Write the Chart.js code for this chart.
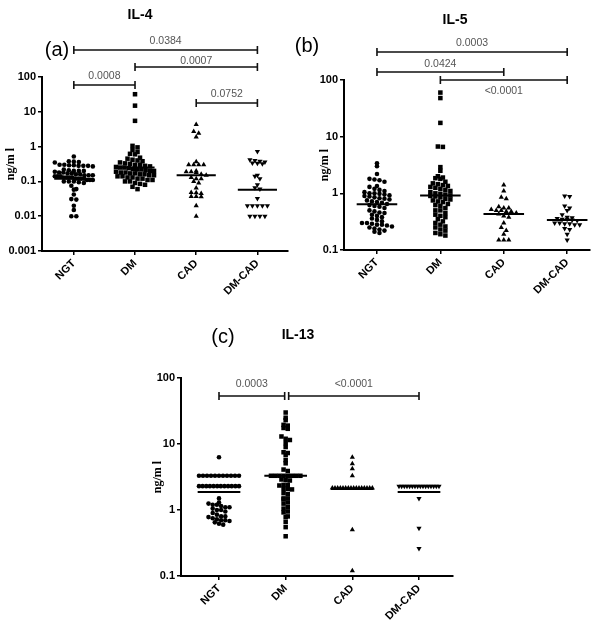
<!DOCTYPE html>
<html>
<head>
<meta charset="utf-8">
<script src="https://cdn.jsdelivr.net/npm/chart.js@4.4.0/dist/chart.umd.min.js"></script>
<style>
  body { margin: 0; background: #fff; }
  #wrap { position: relative; width: 600px; height: 637px; overflow: hidden; }
  canvas { position: absolute; }
</style>
</head>
<body>
<div id="wrap">
  <canvas id="il4" width="300" height="320" style="left:0;top:0"></canvas>
  <canvas id="il5" width="310" height="320" style="left:290px;top:0"></canvas>
  <canvas id="il13" width="330" height="317" style="left:140px;top:320px"></canvas>
</div>
<script>
const groups = ['NGT', 'DM', 'CAD', 'DM-CAD'];

// IL-4 (ng/ml)
const il4NGT = [0.52, 0.38, 0.37, 0.36, 0.35, 0.3, 0.3, 0.29, 0.29, 0.28, 0.28, 0.28, 0.27, 0.22, 0.21, 0.2, 0.2, 0.2, 0.19, 0.18, 0.18, 0.17, 0.17, 0.16, 0.16, 0.15, 0.15, 0.15, 0.14, 0.14, 0.14, 0.13, 0.13, 0.13, 0.13, 0.12, 0.12, 0.12, 0.12, 0.11, 0.11, 0.11, 0.1, 0.1, 0.1, 0.095, 0.09, 0.075, 0.06, 0.058, 0.042, 0.031, 0.03, 0.02, 0.015, 0.01, 0.01];
const il4DM = [32, 15, 5.5, 1.05, 0.95, 0.8, 0.7, 0.62, 0.6, 0.48, 0.45, 0.42, 0.4, 0.38, 0.35, 0.33, 0.32, 0.3, 0.3, 0.28, 0.27, 0.26, 0.25, 0.25, 0.24, 0.23, 0.22, 0.22, 0.21, 0.2, 0.2, 0.19, 0.18, 0.18, 0.17, 0.17, 0.16, 0.16, 0.15, 0.15, 0.14, 0.14, 0.13, 0.13, 0.12, 0.12, 0.11, 0.11, 0.1, 0.1, 0.09, 0.085, 0.08, 0.07, 0.06];
const il4CAD = [4.3, 2.7, 2.4, 1.9, 0.37, 0.3, 0.3, 0.3, 0.3, 0.2, 0.19, 0.19, 0.18, 0.16, 0.15, 0.13, 0.12, 0.12, 0.1, 0.09, 0.065, 0.048, 0.047, 0.045, 0.037, 0.037, 0.036, 0.02, 0.01];
const il4DMCAD = [0.72, 0.42, 0.4, 0.38, 0.36, 0.34, 0.33, 0.32, 0.15, 0.14, 0.12, 0.08, 0.066, 0.06, 0.032, 0.02, 0.02, 0.02, 0.02, 0.02, 0.01, 0.01, 0.01, 0.01];
const il4Medians = [0.12, 0.25, 0.15, 0.058];
const il4Ticks = [0.001, 0.01, 0.1, 1, 10, 100];
const il4TickLabels = ['0.001', '0.01', '0.1', '1', '10', '100'];
const il4Pvalues = [['NGT', 'DM-CAD', '0.0384'], ['DM', 'DM-CAD', '0.0007'], ['NGT', 'DM', '0.0008'], ['CAD', 'DM-CAD', '0.0752']];

// IL-5 (ng/ml)
const il5NGT = [3.4, 3.0, 2.2, 1.8, 1.75, 1.7, 1.6, 1.35, 1.3, 1.2, 1.15, 1.1, 1.05, 1.0, 1.0, 0.98, 0.95, 0.92, 0.9, 0.88, 0.85, 0.82, 0.8, 0.78, 0.75, 0.72, 0.7, 0.68, 0.65, 0.62, 0.6, 0.58, 0.55, 0.5, 0.48, 0.46, 0.45, 0.42, 0.4, 0.38, 0.36, 0.34, 0.32, 0.3, 0.3, 0.29, 0.28, 0.28, 0.27, 0.26, 0.25, 0.24, 0.23, 0.22, 0.21, 0.2];
const il5DM = [60, 48, 17.5, 6.7, 6.6, 2.9, 2.5, 2.0, 1.9, 1.85, 1.8, 1.6, 1.5, 1.45, 1.4, 1.35, 1.3, 1.25, 1.2, 1.15, 1.1, 1.05, 1.0, 0.98, 0.95, 0.92, 0.9, 0.88, 0.85, 0.8, 0.78, 0.75, 0.72, 0.7, 0.65, 0.62, 0.6, 0.55, 0.5, 0.5, 0.45, 0.42, 0.4, 0.38, 0.35, 0.32, 0.3, 0.28, 0.26, 0.25, 0.23, 0.22, 0.2, 0.19, 0.18];
const il5CAD = [1.4, 1.1, 0.85, 0.8, 0.58, 0.55, 0.55, 0.52, 0.5, 0.5, 0.48, 0.48, 0.45, 0.43, 0.4, 0.38, 0.3, 0.25, 0.22, 0.19, 0.15, 0.15, 0.15];
const il5DMCAD = [0.9, 0.88, 0.6, 0.55, 0.5, 0.42, 0.38, 0.37, 0.36, 0.35, 0.35, 0.34, 0.33, 0.3, 0.3, 0.29, 0.29, 0.28, 0.28, 0.24, 0.23, 0.19, 0.15];
const il5Medians = [0.64, 0.92, 0.43, 0.34];
const il5Ticks = [0.1, 1, 10, 100];
const il5TickLabels = ['0.1', '1', '10', '100'];
const il5Pvalues = [['NGT', 'DM-CAD', '0.0003'], ['NGT', 'CAD', '0.0424'], ['DM', 'DM-CAD', '<0.0001']];

// IL-13 (ng/ml)
const il13NGT = [6.3, 3.3, 3.3, 3.3, 3.3, 3.3, 3.3, 3.3, 3.3, 3.3, 3.3, 3.3, 2.3, 2.3, 2.3, 2.3, 2.3, 2.3, 2.3, 2.3, 2.3, 2.3, 2.3, 2.3, 1.5, 1.3, 1.25, 1.2, 1.2, 1.15, 1.1, 1.1, 1.05, 1.0, 1.0, 0.95, 0.9, 0.85, 0.8, 0.8, 0.78, 0.75, 0.72, 0.7, 0.7, 0.68, 0.65, 0.62, 0.6];
const il13DM = [30, 25, 23, 19.5, 19, 17.5, 17, 13, 12, 11.5, 10.3, 9, 7.5, 7.3, 6.8, 5.7, 5.1, 4.1, 3.9, 3.3, 3.3, 3.3, 3.3, 3.3, 3.3, 3.3, 3.3, 2.9, 2.85, 2.8, 2.4, 2.4, 2.35, 2.1, 2.1, 2.05, 1.8, 1.75, 1.5, 1.5, 1.45, 1.3, 1.25, 1.1, 1.05, 0.95, 0.92, 0.8, 0.78, 0.66, 0.55, 0.4];
const il13CAD = [6.3, 5.0, 4.2, 3.3, 2.15, 2.15, 2.15, 2.15, 2.15, 2.15, 2.15, 2.15, 2.15, 2.15, 2.15, 2.15, 2.15, 2.15, 2.15, 2.15, 0.5, 0.12];
const il13DMCAD = [2.3, 2.3, 2.3, 2.3, 2.3, 2.3, 2.3, 2.3, 2.3, 2.3, 2.3, 2.3, 2.3, 2.3, 2.3, 2.3, 1.5, 0.53, 0.26];
const il13Medians = [1.87, 3.3, 2.08, 1.87];
const il13Ticks = [0.1, 1, 10, 100];
const il13TickLabels = ['0.1', '1', '10', '100'];
const il13Pvalues = [['NGT', 'DM', '0.0003'], ['DM', 'DM-CAD', '<0.0001']];

// marker look per group: circle, square, triangle, inverted triangle
const markerStyles = ['circle', 'rect', 'triangle', 'triangle'];
const markerRotation = [0, 0, 0, 180];
const markerRadius = [2.3, 3.2, 3, 3];

// spread points of one column sideways in rows, like a column scatter plot
function swarm(values, cat, p) {
  const pxPerDecade = (p.bottom - p.top) / Math.log10(p.yMax / p.yMin);
  const pxPerCat = (p.right - p.left) / (p.xMax - p.xMin);
  const rows = {};
  values.forEach(v => {
    const r = Math.round(Math.log10(v) * pxPerDecade / p.rowPx);
    (rows[r] = rows[r] || []).push(v);
  });
  const out = [];
  Object.values(rows).forEach(list => {
    const n = list.length;
    const gap = n > 1 ? Math.min(p.gapPx, p.maxRowPx / (n - 1)) : 0;
    list.forEach((v, i) => {
      out.push({ x: cat + (i - (n - 1) / 2) * gap / pxPerCat, y: v });
    });
  });
  return out;
}

function makePanel(p) {
  const datasets = [];
  p.series.forEach((vals, i) => {
    datasets.push({
      type: 'scatter',
      data: swarm(vals, i + 1, p),
      pointStyle: markerStyles[i],
      pointRotation: markerRotation[i],
      pointRadius: markerRadius[i],
      backgroundColor: '#000',
      borderColor: '#000',
      borderWidth: 0
    });
    datasets.push({
      type: 'line',
      data: [{ x: i + 1 - 0.32, y: p.medians[i] }, { x: i + 1 + 0.32, y: p.medians[i] }],
      borderColor: '#000',
      borderWidth: 2,
      pointRadius: 0
    });
  });

  const canvas = document.getElementById(p.id);
  new Chart(canvas.getContext('2d'), {
    type: 'scatter',
    data: { datasets: datasets },
    options: {
      responsive: false,
      animation: false,
      events: [],
      layout: {
        padding: { top: p.top, left: p.padLeft, right: canvas.width - p.right, bottom: 0 }
      },
      plugins: { legend: { display: false }, tooltip: { enabled: false } },
      scales: {
        x: {
          type: 'linear',
          min: p.xMin,
          max: p.xMax,
          afterBuildTicks: s => { s.ticks = groups.map((g, i) => ({ value: i + 1 })); },
          afterFit: s => { s.height = canvas.height - p.bottom; s.paddingLeft = 0; s.paddingRight = 0; },
          ticks: {
            callback: v => groups[Math.round(v) - 1],
            autoSkip: false,
            minRotation: 45,
            maxRotation: 45,
            color: '#000',
            padding: 2,
            font: { family: 'Liberation Sans', size: 11, weight: 'bold' }
          },
          grid: { drawOnChartArea: false, drawTicks: true, tickLength: 4, color: '#000', lineWidth: 1.5 },
          border: { display: true, color: '#000', width: 2 }
        },
        y: {
          type: 'logarithmic',
          min: p.yMin,
          max: p.yMax,
          afterBuildTicks: s => { s.ticks = p.ticks.map(v => ({ value: v })); },
          afterFit: s => { s.width = p.left - p.padLeft; },
          ticks: {
            callback: (v, i) => p.tickLabels[i],
            autoSkip: false,
            color: '#000',
            padding: 2,
            font: { family: 'Liberation Sans', size: 11, weight: 'bold' }
          },
          grid: { drawOnChartArea: false, drawTicks: true, tickLength: 4, color: '#000', lineWidth: 1.5 },
          border: { display: true, color: '#000', width: 2 },
          title: {
            display: true,
            text: 'ng/m l',
            color: '#000',
            font: { family: 'Liberation Serif', size: 12, weight: 'bold' }
          }
        }
      }
    },
    plugins: [{
      id: 'brackets',
      afterDraw(chart) {
        const ctx = chart.ctx;
        const xs = chart.scales.x;
        ctx.save();
        ctx.textAlign = 'center';
        ctx.textBaseline = 'middle';
        ctx.fillStyle = '#000';
        ctx.font = 'bold 14px "Liberation Sans"';
        ctx.fillText(p.title, p.titleX, p.titleY);
        ctx.font = '20px "Liberation Sans"';
        ctx.fillText(p.tag, p.tagX, p.tagY);

        p.pvalues.forEach((b, i) => {
          const pos = p.bracketPos[i];
          const x1 = xs.getPixelForValue(groups.indexOf(b[0]) + 1) + (pos.dx1 || 0);
          const x2 = xs.getPixelForValue(groups.indexOf(b[1]) + 1) + (pos.dx2 || 0);
          ctx.strokeStyle = '#111';
          ctx.lineWidth = 1.6;
          ctx.beginPath();
          ctx.moveTo(x1, pos.y); ctx.lineTo(x2, pos.y);
          ctx.moveTo(x1, pos.y - 4); ctx.lineTo(x1, pos.y + 4);
          ctx.moveTo(x2, pos.y - 4); ctx.lineTo(x2, pos.y + 4);
          ctx.stroke();
          ctx.fillStyle = '#555';
          ctx.font = '10.5px "Liberation Sans"';
          ctx.fillText(b[2], (x1 + x2) / 2, pos.y + pos.ly);
        });
        ctx.restore();
      }
    }]
  });
}

makePanel({
  id: 'il4', title: 'IL-4', titleX: 140, titleY: 15, tag: '(a)', tagX: 57, tagY: 50,
  series: [il4NGT, il4DM, il4CAD, il4DMCAD], medians: il4Medians,
  ticks: il4Ticks, tickLabels: il4TickLabels, pvalues: il4Pvalues,
  bracketPos: [{ y: 50, ly: -9 }, { y: 67, ly: -6 }, { y: 85, ly: -9 }, { y: 103, ly: -9 }],
  yMin: 0.001, yMax: 100, xMin: 0.48, xMax: 4.5,
  left: 42, right: 288, top: 77, bottom: 251, padLeft: 0,
  rowPx: 4.5, gapPx: 5, maxRowPx: 38
});

makePanel({
  id: 'il5', title: 'IL-5', titleX: 165, titleY: 20, tag: '(b)', tagX: 17, tagY: 46,
  series: [il5NGT, il5DM, il5CAD, il5DMCAD], medians: il5Medians,
  ticks: il5Ticks, tickLabels: il5TickLabels, pvalues: il5Pvalues,
  bracketPos: [{ y: 52, ly: -9 }, { y: 72, ly: -8 }, { y: 80, ly: 11 }],
  yMin: 0.1, yMax: 100, xMin: 0.48, xMax: 4.36,
  left: 54, right: 300, top: 80, bottom: 250, padLeft: 24,
  rowPx: 4.5, gapPx: 5, maxRowPx: 38
});

makePanel({
  id: 'il13', title: 'IL-13', titleX: 158, titleY: 15, tag: '(c)', tagX: 83, tagY: 17,
  series: [il13NGT, il13DM, il13CAD, il13DMCAD], medians: il13Medians,
  ticks: il13Ticks, tickLabels: il13TickLabels, pvalues: il13Pvalues,
  bracketPos: [{ y: 76, ly: -12, dx2: -1 }, { y: 76, ly: -12, dx1: 3 }],
  yMin: 0.1, yMax: 100, xMin: 0.43, xMax: 4.51,
  left: 41, right: 313, top: 58, bottom: 256, padLeft: 7,
  rowPx: 4.5, gapPx: 4.2, maxRowPx: 40
});
</script>
</body>
</html>
